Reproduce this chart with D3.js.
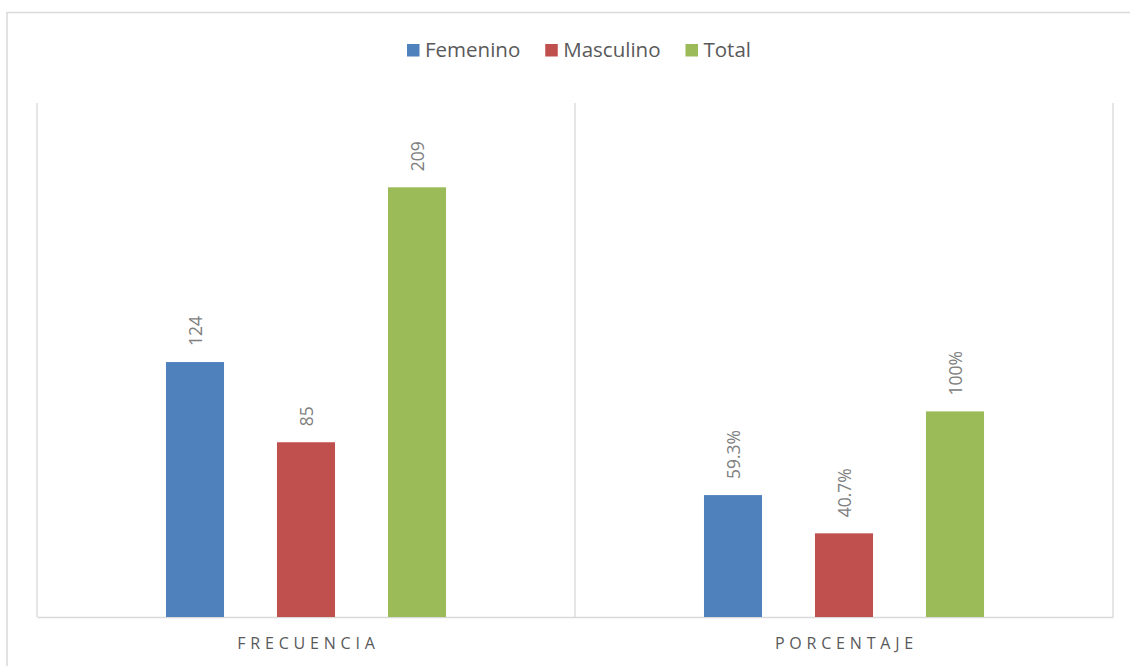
<!DOCTYPE html>
<html>
<head>
<meta charset="utf-8">
<script src="https://cdn.jsdelivr.net/npm/d3@7"></script>
<style>
  html, body { margin: 0; padding: 0; background: #ffffff; }
  svg { display: block; font-family: "Open Sans", "Noto Sans", sans-serif; }
</style>
</head>
<body>
<svg id="chart" width="1130" height="666"></svg>
<script>
// Grouped bars: frequency and percentage by sex
const categories = ["FRECUENCIA", "PORCENTAJE"];
const series = ["Femenino", "Masculino", "Total"];
const femenino = [124, 59.3];
const masculino = [85, 40.7];
const total = [209, 100];
const valueLabels = [
  ["124", "85", "209"],
  ["59.3%", "40.7%", "100%"]
];
const colors = ["#4F81BD", "#C0504D", "#9BBB59"];

const seriesValues = [femenino, masculino, total];

const svg = d3.select("#chart");
const W = 1130, H = 666;
const plot = { left: 37, right: 1113, top: 103, bottom: 617 };
const gridColor = "#d9d9d9";

// Outer chart frame
svg.append("rect")
  .attr("x", 7).attr("y", 12.5)
  .attr("width", W + 20).attr("height", H + 20)
  .attr("fill", "none")
  .attr("stroke", gridColor)
  .attr("stroke-width", 1.5);

const x0 = d3.scaleBand()
  .domain(categories)
  .range([plot.left, plot.right])
  .padding(0);

const x1 = d3.scaleBand()
  .domain(series)
  .range([0, x0.bandwidth()])
  .paddingInner(0.477)
  .paddingOuter(1.162);

const y = d3.scaleLinear()
  .domain([0, 250])
  .range([plot.bottom, plot.top]);

// Vertical category dividers
const dividers = [plot.left].concat(categories.map(c => x0(c) + x0.bandwidth()));
svg.append("g")
  .selectAll("line")
  .data(dividers)
  .join("line")
  .attr("x1", d => d).attr("x2", d => d)
  .attr("y1", y(250)).attr("y2", y(0))
  .attr("stroke", gridColor)
  .attr("stroke-width", 1.3);

// Category axis along the baseline
const xAxis = svg.append("g")
  .attr("transform", `translate(0,${y(0)})`)
  .call(d3.axisBottom(x0).tickSize(0).tickPadding(21));
xAxis.select(".domain")
  .attr("stroke", gridColor)
  .attr("stroke-width", 1.5);
xAxis.selectAll(".tick text")
  .attr("fill", "#595959")
  .style("font-family", "'Open Sans', sans-serif")
  .style("font-size", "16px")
  .style("letter-spacing", "4.8px")
  .attr("dx", "2.4px");

// Bars
const rows = categories.map((c, i) => ({
  category: c,
  items: series.map((s, j) => ({ series: s, value: seriesValues[j][i], label: valueLabels[i][j], color: colors[j] }))
}));

const groups = svg.append("g")
  .selectAll("g")
  .data(rows)
  .join("g")
  .attr("transform", d => `translate(${x0(d.category)},0)`);

groups.selectAll("rect")
  .data(d => d.items)
  .join("rect")
  .attr("x", d => x1(d.series))
  .attr("y", d => y(d.value))
  .attr("width", x1.bandwidth())
  .attr("height", d => y(0) - y(d.value))
  .attr("fill", d => d.color);

// Rotated value labels above each bar
groups.selectAll("text")
  .data(d => d.items)
  .join("text")
  .attr("transform", d => `translate(${x1(d.series) + x1.bandwidth() / 2 + 1},${y(d.value) - 16}) rotate(-90)`)
  .attr("text-anchor", "start")
  .attr("dy", "0.36em")
  .attr("fill", "#808080")
  .style("font-size", "17.5px")
  .text(d => d.label);

// Legend
const legend = svg.append("g");
const items = legend.selectAll("g")
  .data(series.map((s, j) => ({ name: s, color: colors[j] })))
  .join("g");
items.append("rect")
  .attr("width", 12.5).attr("height", 12.5)
  .attr("y", -6)
  .attr("fill", d => d.color);
items.append("text")
  .attr("x", 18)
  .attr("dy", "0.36em")
  .attr("fill", "#595959")
  .style("font-size", "20.5px")
  .text(d => d.name);

let cursor = 0;
items.each(function () {
  const g = d3.select(this);
  g.attr("transform", `translate(${cursor},0)`);
  const w = 18 + g.select("text").node().getComputedTextLength();
  cursor += w + 25;
});
const legendWidth = cursor - 25;
legend.attr("transform", `translate(${579 - legendWidth / 2},50)`);
</script>
</body>
</html>
